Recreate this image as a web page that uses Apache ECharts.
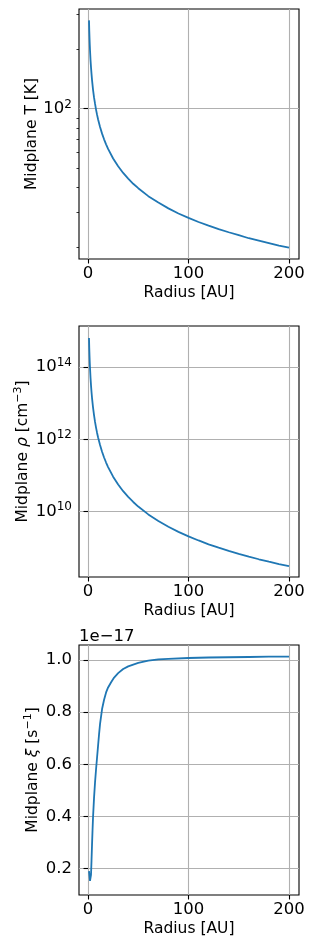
<!DOCTYPE html>
<html><head><meta charset="utf-8">
<script src="https://cdn.jsdelivr.net/npm/echarts@6/dist/echarts.min.js"></script>
<style>html,body{margin:0;padding:0;background:#fff}#c{width:316px;height:947px}</style>
</head><body><div id="c"></div>
<script>
// ---- data ----
const radius = [1,1.25,1.5,1.75,2,2.5,3,3.5,4,5,6,7,8,9,10,12,14,16,18,20,25,30,35,40,45,50,60,70,80,90,100,110,120,130,140,150,160,170,180,190,200];
const temperature = [280,250,229,212,198,177,162,150,140,125,114,106,99,93.3,88.5,80.8,74.8,70,66,62.6,56,51.1,47.3,44.3,41.7,39.6,36.1,33.5,31.3,29.5,28,26.7,25.6,24.6,23.7,22.9,22.1,21.5,20.9,20.3,19.8];
const density = [6.4e14,3.46e14,2.10e14,1.37e14,9.5e13,5.15e13,3.12e13,2.04e13,1.41e13,7.66e12,4.63e12,3.03e12,2.10e12,1.52e12,1.14e12,6.89e11,4.51e11,3.12e11,2.26e11,1.69e11,9.16e10,5.55e10,3.63e10,2.51e10,1.82e10,1.36e10,8.24e9,5.40e9,3.74e9,2.70e9,2.02e9,1.56e9,1.22e9,9.83e8,8.02e8,6.63e8,5.56e8,4.70e8,4.02e8,3.46e8,3.01e8];
const radiusXi = [1,1.5,2,2.5,3,3.5,4,4.5,5,6,7,8,9,10,11,12,14,16,18,20,23,26,30,35,40,45,50,60,70,80,100,120,140,160,180,200];
const ionization = [0.19e-17,0.17e-17,0.152e-17,0.145e-17,0.175e-17,0.23e-17,0.29e-17,0.345e-17,0.395e-17,0.47e-17,0.53e-17,0.58e-17,0.625e-17,0.67e-17,0.715e-17,0.755e-17,0.812e-17,0.848e-17,0.876e-17,0.895e-17,0.915e-17,0.933e-17,0.95e-17,0.966e-17,0.976e-17,0.983e-17,0.989e-17,0.998e-17,1.003e-17,1.005e-17,1.008e-17,1.010e-17,1.011e-17,1.012e-17,1.013e-17,1.0135e-17];

const xTicks = [0,100,200];
const tTicks = [100];
const tMinorTicks = [20,30,40,50,60,70,80,90,200,300];
const rhoTicks = [1e10,1e12,1e14];
const xiTicks = [0.2e-17,0.4e-17,0.6e-17,0.8e-17,1.0e-17];

const FONT = 'DejaVu Sans';
const BLUE = '#1f77b4';
const GRIDC = '#b0b0b0';
const TICKF = 16.5, NAMEF = 15.5;

const grids = [
  {left:79, width:220, top:9, height:250},
  {left:79, width:220, top:326, height:251},
  {left:79, width:220, top:645, height:250}
].map(g => Object.assign({show:true, borderColor:'#000', borderWidth:1.1, backgroundColor:'transparent', outerBoundsMode:'none', containLabel:false}, g));

function xAxis(i){
  return {
    type:'value', gridIndex:i, min:-8.95, max:209.95,
    name:'Radius [AU]', nameLocation:'middle', nameGap:26, nameMoveOverlap:false,
    nameTextStyle:{fontFamily:FONT, fontSize:NAMEF, color:'#000'},
    axisLine:{show:false},
    axisTick:{show:true, customValues:xTicks, length:4.5, lineStyle:{color:'#000', width:1.1}},
    axisLabel:{customValues:xTicks, fontFamily:FONT, fontSize:TICKF, color:'#000', margin:6},
    splitLine:{show:true, lineStyle:{color:GRIDC, width:1.1}}
  };
}
const powRich = {
  b:{fontFamily:FONT, fontSize:TICKF, color:'#000', lineHeight:20},
  s:{fontFamily:FONT, fontSize:12, color:'#000', lineHeight:12, verticalAlign:'top'}
};
function powFmt(v){ const e = Math.round(Math.log10(v)); return '{b|10}{s|' + e + '}'; }
const nameRich = {
  n:{fontFamily:FONT, fontSize:NAMEF, color:'#000', lineHeight:20},
  g:{fontFamily:FONT, fontSize:NAMEF, fontStyle:'italic', color:'#000', lineHeight:20},
  s:{fontFamily:FONT, fontSize:11, color:'#000', lineHeight:12, verticalAlign:'top'}
};

const option = {
  animation:false,
  backgroundColor:'#fff',
  title:{text:'1e\u221217', left:79, top:628, textStyle:{fontFamily:FONT, fontSize:TICKF, fontWeight:'normal', color:'#000'}, padding:0},
  grid: grids,
  xAxis:[xAxis(0), xAxis(1), xAxis(2)],
  yAxis:[
    {
      type:'log', gridIndex:0, logBase:10, min:17.35, max:319.7,
      name:'Midplane T [K]', nameLocation:'middle', nameGap:39, nameRotate:90, nameMoveOverlap:false,
      nameTextStyle:{fontFamily:FONT, fontSize:NAMEF, color:'#000'},
      axisLine:{show:false},
      axisTick:{show:true, customValues:tTicks, length:4.5, lineStyle:{color:'#000', width:1.1}},
      axisLabel:{customValues:tTicks, formatter:powFmt, rich:powRich, margin:7},
      splitLine:{show:true, lineStyle:{color:GRIDC, width:1.1}},
      minorTick:{show:false}
    },
    {
      type:'log', gridIndex:0, logBase:10, min:17.35, max:319.7, position:'left',
      axisLine:{show:false},
      axisTick:{show:true, customValues:tMinorTicks, length:2.5, lineStyle:{color:'#000', width:0.8}},
      axisLabel:{show:false},
      splitLine:{show:false}
    },
    {
      type:'log', gridIndex:1, logBase:10, min:Math.pow(10,8.18), max:Math.pow(10,15.14),
      name:'{n|Midplane }{g|\u03c1}{n| [cm}{s|\u22123}{n|]}', nameLocation:'middle', nameGap:46, nameRotate:90, nameMoveOverlap:false,
      nameTextStyle:{fontFamily:FONT, fontSize:NAMEF, color:'#000', rich:nameRich},
      axisLine:{show:false},
      axisTick:{show:true, customValues:rhoTicks, length:4.5, lineStyle:{color:'#000', width:1.1}},
      axisLabel:{customValues:rhoTicks, formatter:powFmt, rich:powRich, margin:7},
      splitLine:{show:true, lineStyle:{color:GRIDC, width:1.1}}
    },
    {
      type:'value', gridIndex:2, min:0.098e-17, max:1.058e-17,
      name:'{n|Midplane }{g|\u03be}{n| [s}{s|\u22121}{n|]}', nameLocation:'middle', nameGap:36, nameRotate:90, nameMoveOverlap:false,
      nameTextStyle:{fontFamily:FONT, fontSize:NAMEF, color:'#000', rich:nameRich},
      axisLine:{show:false},
      axisTick:{show:true, customValues:xiTicks, length:4.5, lineStyle:{color:'#000', width:1.1}},
      axisLabel:{customValues:xiTicks, formatter:v => (v/1e-17).toFixed(1), fontFamily:FONT, fontSize:TICKF, color:'#000', margin:7},
      splitLine:{show:true, lineStyle:{color:GRIDC, width:1.1}}
    }
  ],
  series:[
    {type:'line', xAxisIndex:0, yAxisIndex:0, data:radius.map((r,i)=>[r,temperature[i]]), showSymbol:false, smooth:false, lineStyle:{color:BLUE, width:1.8}, z:5},
    {type:'line', xAxisIndex:1, yAxisIndex:2, data:radius.map((r,i)=>[r,density[i]]), showSymbol:false, smooth:false, lineStyle:{color:BLUE, width:1.8}, z:5},
    {type:'line', xAxisIndex:2, yAxisIndex:3, data:radiusXi.map((r,i)=>[r,ionization[i]]), showSymbol:false, smooth:false, lineStyle:{color:BLUE, width:1.8}, z:5}
  ]
};
const chart = echarts.init(document.getElementById('c'), null, {renderer:'canvas'});
chart.setOption(option);
</script></body></html>
